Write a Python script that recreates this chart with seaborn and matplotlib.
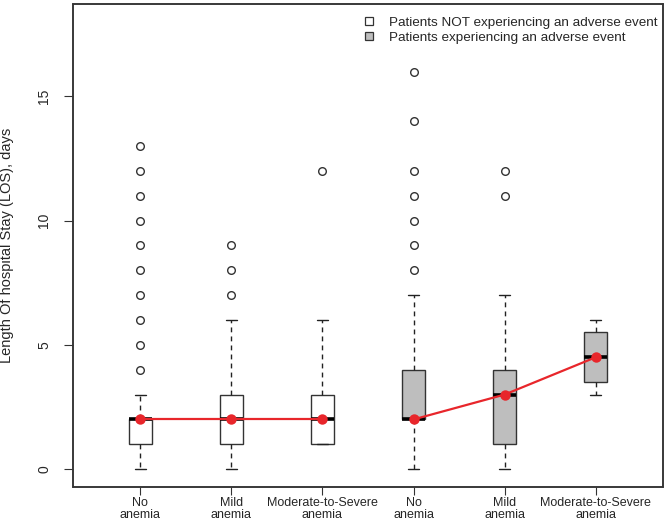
import numpy as np
import pandas as pd
import seaborn as sns
import matplotlib.pyplot as plt
from matplotlib.lines import Line2D

# box statistics (days)
groups = ['No\nanemia', 'Mild\nanemia', 'Moderate-to-Severe\nanemia',
          'No\nanemia', 'Mild\nanemia', 'Moderate-to-Severe\nanemia']
adverse = [0, 0, 0, 1, 1, 1]
whislo = [0, 0, 1, 0, 0, 3]
q1 = [1, 1, 1, 2, 1, 3.5]
med = [2, 2, 2, 2, 3, 4.5]
q3 = [2, 3, 3, 4, 4, 5.5]
whishi = [3, 6, 6, 7, 7, 6]
fliers = [[4, 5, 6, 7, 8, 9, 10, 11, 12, 13],
          [7, 8, 9],
          [12],
          [8, 9, 10, 11, 12, 14, 16],
          [11, 12],
          []]
legend_labels = ['Patients NOT experiencing an adverse event',
                 'Patients experiencing an adverse event']
fill = {0: 'white', 1: '#bebebe'}

sns.set_style("ticks", {"axes.spines.right": True, "axes.spines.top": True})
plt.rcParams['font.family'] = ['Liberation Sans', 'DejaVu Sans']

fig = plt.figure(figsize=(6.66, 5.24), dpi=100)
ax = fig.add_axes([73/666, 37/524, 590/666, 483/524])

pos = np.arange(1, len(groups) + 1)
stats = [dict(med=m, q1=a, q3=b, whislo=lo, whishi=hi, fliers=f)
         for m, a, b, lo, hi, f in zip(med, q1, q3, whislo, whishi, fliers)]
bp = ax.bxp(stats, positions=pos, widths=0.25, capwidths=0.125,
            patch_artist=True, showfliers=True,
            boxprops=dict(edgecolor='#333333', linewidth=1.0),
            medianprops=dict(color='black', linewidth=2.6, solid_capstyle='butt'),
            whiskerprops=dict(color='#222222', linewidth=1.0, linestyle=(0, (3.5, 3))),
            capprops=dict(color='#222222', linewidth=1.0),
            flierprops=dict(marker='o', markerfacecolor='none',
                            markeredgecolor='#333333', markersize=5.5,
                            markeredgewidth=1.0))
for patch, ev in zip(bp['boxes'], adverse):
    patch.set_facecolor(fill[ev])

# red median points joined within each adverse-event group
df = pd.DataFrame({'pos': pos, 'LOS': med, 'event': adverse})
sns.lineplot(data=df, x='pos', y='LOS', units='event', estimator=None,
             color='#e8262b', linewidth=1.6, marker='o', markersize=7.5,
             markeredgewidth=0, ax=ax, zorder=5)

ax.set_xlim(0.26, 6.74)
ax.set_ylim(-0.72, 18.72)
ax.set_xticks(pos)
ax.set_xticklabels(groups, fontsize=9, linespacing=1.0)
ax.set_yticks([0, 5, 10, 15])
ax.set_yticklabels(['0', '5', '10', '15'], fontsize=10, rotation=90, va='center')
ax.tick_params(axis='x', length=5.5, width=0.8, pad=1.5, color='#333333')
ax.tick_params(axis='y', length=6.8, width=0.8, pad=9, color='#333333')
ax.set_xlabel('')
ax.set_ylabel('Length Of hospital Stay (LOS), days', fontsize=10.5)
ax.yaxis.set_label_coords(-0.100, 0.5)
for side in ['left', 'right', 'top', 'bottom']:
    ax.spines[side].set_visible(True)
    ax.spines[side].set_linewidth(1.1)
    ax.spines[side].set_color('#333333')
    ax.spines[side].set_zorder(10)
# box frame as in the R original
ax.patch.set_edgecolor('#333333')
ax.patch.set_linewidth(1.1)

handles = [Line2D([], [], linestyle='none', marker='s', markersize=6,
                  markerfacecolor=fill[k], markeredgecolor='#333333',
                  markeredgewidth=0.9) for k in (0, 1)]
ax.legend(handles, legend_labels, loc='upper left', frameon=False,
          bbox_to_anchor=(0.49, 0.975), borderaxespad=0, borderpad=0,
          handlelength=1.0, handletextpad=1.0, labelspacing=0.2,
          fontsize=9.7)

fig.savefig('out.png', dpi=100)
